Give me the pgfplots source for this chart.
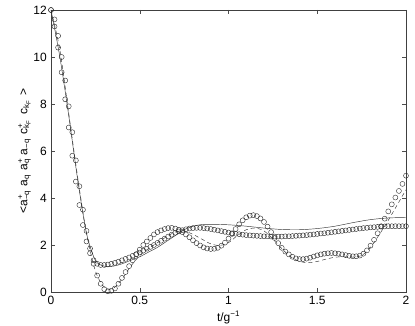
\documentclass[border=0pt]{standalone}
\usepackage{fontspec}
\setmainfont{Liberation Sans}
\usepackage{pgfplots}
\pgfplotsset{compat=1.18}
\newcommand{\op}[3]{#1\rlap{\textsuperscript{#2}}\textsubscript{#3}}
\begin{document}
\fontsize{12}{14}\selectfont
\begin{tikzpicture}
\begin{axis}[
    scale only axis, width=355pt, height=282pt,
    xmin=0, xmax=2, ymin=0, ymax=12,
    xtick={0,0.5,1,1.5,2}, ytick={0,2,4,6,8,10,12},
    xticklabels={0,0.5,1,1.5,2},
    tick align=inside, major tick length=4pt,
    tick style={black!70, line width=0.4pt},
    axis line style={black!75, line width=0.5pt},
    /pgf/number format/assume math mode=true,
    tick label style={font=\fontsize{12}{14}\selectfont},
    label style={font=\fontsize{12}{14}\selectfont},
    xlabel={t/g\textsuperscript{−1}},
    ylabel={<\op{a}{+}{−q}\,\,\op{a}{}{q}\,\,\op{a}{+}{q}\,\,\op{a}{}{−q}\,\,\op{c}{+}{k\textsubscript{F}}\,\,\,\op{c}{}{k\textsubscript{F}}\,\,>},
    xlabel style={at={(axis description cs:0.5,0)}, anchor=north, yshift=-15pt},
    ylabel style={at={(axis description cs:0,0.5)}, anchor=south, yshift=16pt},
    clip=false,
]
% circles, oscillating series
\addplot[only marks, mark=o, mark size=2.5pt, mark options={black!85, line width=0.4pt}] coordinates {
(0,12.0) (0.02,11.6) (0.04,10.9) (0.06,10.0) (0.08,9.0) (0.10,7.9) (0.12,6.8) (0.14,5.6)
(0.16,4.5) (0.18,3.5) (0.20,2.6) (0.22,1.85) (0.24,1.2) (0.26,0.7) (0.28,0.35) (0.30,0.12)
(0.32,0.03) (0.34,0.05) (0.36,0.15) (0.38,0.35) (0.40,0.6) (0.42,0.85) (0.44,1.1) (0.46,1.35)
(0.48,1.6) (0.50,1.8) (0.52,2.0) (0.54,2.15) (0.56,2.3) (0.58,2.45) (0.60,2.55) (0.62,2.62)
(0.64,2.68) (0.66,2.72) (0.68,2.73) (0.70,2.7) (0.72,2.65) (0.74,2.55) (0.76,2.45) (0.78,2.33)
(0.80,2.2) (0.82,2.08) (0.84,1.98) (0.86,1.9) (0.88,1.85) (0.90,1.83) (0.92,1.84) (0.94,1.88)
(0.96,1.97) (0.98,2.1) (1.00,2.27) (1.02,2.47) (1.04,2.68) (1.06,2.88) (1.08,3.05) (1.10,3.18)
(1.12,3.25) (1.14,3.27) (1.16,3.23) (1.18,3.13) (1.20,2.98) (1.22,2.78) (1.24,2.55) (1.26,2.3)
(1.28,2.08) (1.30,1.88) (1.32,1.72) (1.34,1.6) (1.36,1.5) (1.38,1.43) (1.40,1.4) (1.42,1.4)
(1.44,1.42) (1.46,1.46) (1.48,1.51) (1.50,1.56) (1.52,1.6) (1.54,1.63) (1.56,1.65) (1.58,1.66)
(1.60,1.65) (1.62,1.63) (1.64,1.6) (1.66,1.57) (1.68,1.54) (1.70,1.52) (1.72,1.52) (1.74,1.55)
(1.76,1.63) (1.78,1.77) (1.80,1.97) (1.82,2.22) (1.84,2.5) (1.86,2.8) (1.88,3.12) (1.90,3.43)
(1.92,3.73) (1.94,4.02) (1.96,4.3) (1.98,4.6) (2.00,4.95)
};
% circles, smooth series
\addplot[only marks, mark=o, mark size=2.5pt, mark options={black!85, line width=0.4pt}] coordinates {
(0,12.0) (0.02,11.3) (0.04,10.4) (0.06,9.35) (0.08,8.2) (0.10,7.0) (0.12,5.8) (0.14,4.7)
(0.16,3.7) (0.18,2.85) (0.20,2.15) (0.22,1.65) (0.24,1.35) (0.26,1.2) (0.28,1.15) (0.30,1.15)
(0.32,1.17) (0.34,1.2) (0.36,1.24) (0.38,1.29) (0.40,1.35) (0.42,1.41) (0.44,1.47) (0.46,1.54)
(0.48,1.61) (0.50,1.68) (0.52,1.76) (0.54,1.84) (0.56,1.92) (0.58,2.0) (0.60,2.09) (0.62,2.18)
(0.64,2.27) (0.66,2.36) (0.68,2.44) (0.70,2.52) (0.72,2.58) (0.74,2.63) (0.76,2.67) (0.78,2.7)
(0.80,2.72) (0.82,2.73) (0.84,2.73) (0.86,2.72) (0.88,2.7) (0.90,2.68) (0.92,2.65) (0.94,2.62)
(0.96,2.59) (0.98,2.56) (1.00,2.53) (1.02,2.5) (1.04,2.48) (1.06,2.46) (1.08,2.44) (1.10,2.42)
(1.12,2.41) (1.14,2.4) (1.16,2.39) (1.18,2.38) (1.20,2.37) (1.22,2.37) (1.24,2.36) (1.26,2.36)
(1.28,2.36) (1.30,2.36) (1.32,2.37) (1.34,2.37) (1.36,2.38) (1.38,2.39) (1.40,2.4) (1.42,2.41)
(1.44,2.42) (1.46,2.44) (1.48,2.45) (1.50,2.47) (1.52,2.49) (1.54,2.5) (1.56,2.52) (1.58,2.54)
(1.60,2.56) (1.62,2.58) (1.64,2.6) (1.66,2.62) (1.68,2.64) (1.70,2.66) (1.72,2.68) (1.74,2.7)
(1.76,2.72) (1.78,2.73) (1.80,2.75) (1.82,2.76) (1.84,2.77) (1.86,2.78) (1.88,2.79) (1.90,2.8)
(1.92,2.8) (1.94,2.8) (1.96,2.8) (1.98,2.8) (2.00,2.8)
};
% solid line
\addplot[black!80, line width=0.45pt, smooth, tension=0.5] coordinates {
(0,12.0) (0.05,10.0) (0.1,7.5) (0.15,4.8) (0.2,2.5) (0.25,1.35) (0.3,1.1) (0.35,1.1)
(0.4,1.2) (0.45,1.35) (0.5,1.5) (0.55,1.7) (0.6,1.9) (0.65,2.15) (0.7,2.4) (0.75,2.65)
(0.8,2.8) (0.85,2.87) (0.9,2.88) (1.0,2.86) (1.1,2.8) (1.2,2.72) (1.3,2.66) (1.4,2.65)
(1.5,2.7) (1.6,2.8) (1.7,2.95) (1.8,3.08) (1.9,3.15) (2.0,3.17)
};
% dashed line
\addplot[black!80, line width=0.45pt, dash pattern=on 4pt off 3pt, smooth, tension=0.5] coordinates {
(0,12.0) (0.05,10.3) (0.1,7.6) (0.15,4.9) (0.2,2.5) (0.25,0.9) (0.3,0.2) (0.35,0.15)
(0.4,0.55) (0.45,1.1) (0.5,1.55) (0.55,1.85) (0.6,2.1) (0.65,2.35) (0.7,2.55) (0.75,2.6)
(0.8,2.45) (0.85,2.25) (0.9,2.05) (0.95,1.98) (1.0,2.1) (1.05,2.4) (1.1,2.65) (1.15,2.72)
(1.2,2.6) (1.25,2.25) (1.3,1.85) (1.35,1.5) (1.4,1.3) (1.45,1.25) (1.5,1.3) (1.55,1.4)
(1.6,1.48) (1.65,1.5) (1.7,1.48) (1.75,1.55) (1.8,1.9) (1.85,2.45) (1.9,3.05) (1.95,3.7)
(2.0,4.35)
};
\end{axis}
\pgfresetboundingbox
\path (current axis.south west) ++(-51pt,-34pt) rectangle ([xshift=9pt,yshift=10pt]current axis.north east);
\end{tikzpicture}
\end{document}
